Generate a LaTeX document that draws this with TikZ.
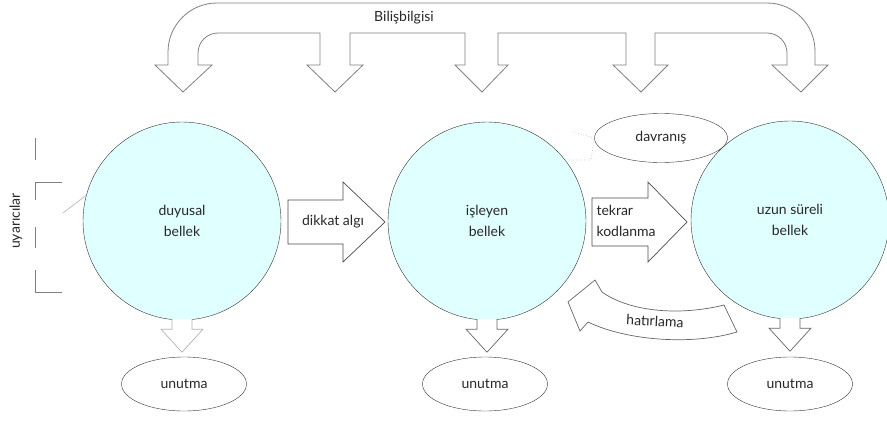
\documentclass[tikz,border=0pt]{standalone}
\usepackage{fontspec}
\setmainfont{Lato}
\usetikzlibrary{shapes.geometric,calc}
\definecolor{bellekfill}{RGB}{224,255,255}
\definecolor{yazi}{RGB}{40,40,40}
\tikzset{
  yazistil/.style={text=yazi,font=\fontsize{14}{21}\selectfont},
  bellek/.style={circle,draw=black!80,fill=bellekfill,minimum size=198pt,align=center,yazistil},
  sonuc/.style={ellipse,draw=black!80,minimum width=125pt,minimum height=54pt,yazistil},
  blok/.style={draw=black!70,fill=white,line width=0.7pt},
  silik/.style={draw=black!25,dotted,line width=0.7pt},
}

\begin{document}
\begin{tikzpicture}[x=1pt,y=1pt]
  \useasboundingbox (0,0) rectangle (887,-426);

  % ust ok: bilisbilgisi
  \draw[draw=black!50,fill=white,line width=0.8pt]
    (168,-65) -- (168,-52) arc[start angle=180,end angle=90,radius=49]
    -- (767,-3) arc[start angle=90,end angle=0,radius=48]
    -- (815,-65) -- (828,-65) -- (801,-92) -- (772,-65) -- (787,-65)
    -- (787,-53) arc[start angle=0,end angle=90,radius=20]
    -- (655,-33) -- (655,-65) -- (668,-65) -- (641,-92) -- (613,-65) -- (626,-65) -- (626,-33)
    -- (498,-33) -- (498,-65) -- (508,-65) -- (482,-92) -- (455,-65) -- (465,-65) -- (465,-33)
    -- (350,-33) -- (350,-65) -- (363,-65) -- (335,-92) -- (307,-65) -- (320,-65) -- (320,-33)
    -- (218,-33) arc[start angle=90,end angle=180,radius=20]
    -- (198,-65) -- (212,-65) -- (183,-92) -- (155,-65) -- cycle;
  \node[yazistil] (bilis) at (404,-18) {Bilişbilgisi};

  % bellek daireleri
  \node[bellek] (duyusal) at (182,-221) {duyusal\\bellek};
  \node[bellek] (isleyen) at (487,-221) {işleyen\\bellek};
  \node[bellek] (uzun)    at (790,-220) {uzun süreli\\bellek};

  \node[sonuc] (unutma1) at (184,-384) {unutma};
  \node[sonuc] (unutma2) at (485,-384) {unutma};
  \node[sonuc] (unutma3) at (790,-384) {unutma};
  \node[sonuc,minimum width=133pt,minimum height=49pt] (davranis) at (661,-138) {davranış};

  % uyaricilar
  \draw[black!50,line width=0.8pt] (35,-138) -- (35,-160);
  \draw[black!50,line width=0.8pt] (62,-182) -- (35,-182) -- (35,-200);
  \draw[black!50,line width=0.8pt] (35,-227) -- (35,-248);
  \draw[black!50,line width=0.8pt] (35,-270) -- (35,-292) -- (62,-292);
  \node[yazistil,rotate=90] (uyaricilar) at (16,-221) {uyarıcılar};
  \coordinate (uyarici) at (63,-213);
  \draw[black!25,line width=0.8pt] (uyarici) -- (duyusal.165);

  % yatay oklar
  \draw[blok] (288,-200) -- (343,-200) -- (343,-182) -- (385,-222)
    -- (343,-262) -- (343,-244) -- (288,-244) -- cycle;
  \node[yazistil] (dikkat) at (333,-222) {dikkat algı};
  \draw[blok] (592,-198) -- (648,-198) -- (648,-182) -- (687,-222)
    -- (648,-262) -- (648,-246) -- (592,-246) -- cycle;
  \node[yazistil,anchor=west,align=left] (tekrar) at (593,-221) {tekrar\\kodlanma};

  % asagi oklar
  \foreach \n/\renk in {duyusal/black!30,isleyen/black!60,uzun/black!60}
    \draw[blok,draw=\renk] ($(\n.south)+(-10,1)$) -- ++(0,-10) -- ++(-11,0)
      -- ++(21,-23) -- ++(21,23) -- ++(-11,0) -- ++(0,10);

  % davranis baglantisi
  \draw[silik] (isleyen.38) -- (591,-160) -- (davranis.west);
  \draw[silik] (573,-132) -- (davranis.west);

  % hatirlama
  \draw[blok,draw=black!60] (568,-302) -- (580,-331) -- (588,-322)
    .. controls (625,-340) and (690,-346) .. (737,-332)
    -- (724,-305) .. controls (680,-316) and (630,-312) .. (602,-292)
    -- (595,-280) -- cycle;
  \node[yazistil,rotate=-3] (hatirlama) at (655,-321) {hatırlama};
\end{tikzpicture}
\end{document}
